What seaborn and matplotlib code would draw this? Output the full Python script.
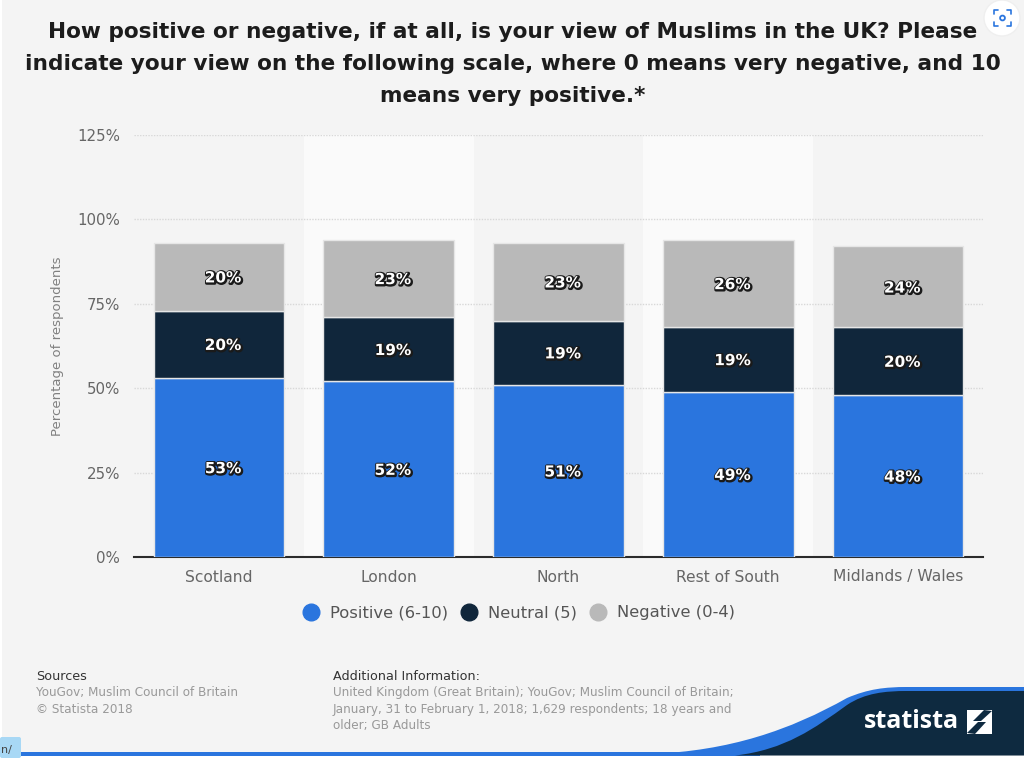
import matplotlib
matplotlib.use('Agg')
import matplotlib.pyplot as plt
import matplotlib.patheffects as pe
from matplotlib.lines import Line2D
from matplotlib.patches import Circle, PathPatch, Polygon, Rectangle, FancyBboxPatch
from matplotlib.path import Path
import numpy as np
import seaborn as sns

regions = ['Scotland', 'London', 'North', 'Rest of South', 'Midlands / Wales']
positive = [53, 52, 51, 49, 48]
neutral = [20, 19, 19, 19, 20]
negative = [20, 23, 23, 26, 24]
series_names = ['Positive (6-10)', 'Neutral (5)', 'Negative (0-4)']
series_colors = ['#2a75de', '#10263b', '#b9b9b9']
y_ticks = [0, 25, 50, 75, 100, 125]

title = ('How positive or negative, if at all, is your view of Muslims in the UK? Please\n'
         'indicate your view on the following scale, where 0 means very negative, and 10\n'
         'means very positive.*')

sns.set_theme(style='white')
plt.rcParams['font.family'] = ['DejaVu Sans']

bg = '#f4f4f4'
fig = plt.figure(figsize=(10.24, 7.58), dpi=100, facecolor=bg)
ax = fig.add_axes([134 / 1024, 1 - 557 / 758, 849 / 1024, 422 / 758], facecolor=bg)

# alternating bands behind the bars
for i in [1, 3]:
    ax.axvspan(i - 0.5, i + 0.5, color='#fafafa', lw=0, zorder=0)

bottom = np.zeros(len(regions))
for values, color in zip([positive, neutral, negative], series_colors):
    sns.barplot(x=regions, y=values, bottom=bottom, color=color, saturation=1, width=0.77,
                edgecolor='#e6e6e6', linewidth=1, ax=ax, zorder=3)
    labels = ax.bar_label(ax.containers[-1], fmt='%g%%', label_type='center', color='white',
                          fontsize=11, fontweight='bold', zorder=5)
    for t in labels:
        t.xyann = (3, -0.8)
        t.set_path_effects([pe.Stroke(linewidth=2.4, foreground='#1a1a1a', offset=(0.5, -0.5)), pe.Normal()])
    bottom = bottom + np.array(values)

ax.set_xlim(-0.5, 4.5)
ax.set_ylim(0, 125)
ax.set_yticks(y_ticks)
ax.set_yticklabels([f'{v}%' for v in y_ticks])
ax.set_ylabel('Percentage of respondents', fontsize=9.5, color='#808080', labelpad=0)
ax.yaxis.set_label_coords(-0.0823, 0.5)
ax.grid(axis='y', color='#d8d8d8', linestyle=(0, (1, 1)), linewidth=1, zorder=1)
ax.set_axisbelow(True)
ax.tick_params(axis='x', colors='#666666', labelsize=11.2, length=0, pad=9)
ax.tick_params(axis='y', colors='#666666', labelsize=10.8, length=0, pad=10)
sns.despine(ax=ax, left=True)
ax.spines['bottom'].set_color('#2b2b2b')
ax.spines['bottom'].set_linewidth(1.5)

handles = [Line2D([], [], linestyle='', marker='o', markersize=12, color=c) for c in series_colors]
fig.legend(handles, series_names, loc='center', bbox_to_anchor=(515 / 1024, 1 - 613 / 758), ncol=3,
           frameon=False, fontsize=11.8, labelcolor='#555555', handletextpad=0.15, columnspacing=0.3)

fig.text(513 / 1024, 1 - 64 / 758, title, ha='center', va='center', fontsize=15.6, fontweight='bold',
         color='#1c1c1c', linespacing=1.72)

# footer text
fig.text(36 / 1024, 1 - 676 / 758, 'Sources', fontsize=9.2, color='#333333', va='center')
fig.text(36 / 1024, 1 - 701 / 758, 'YouGov; Muslim Council of Britain\n© Statista 2018', fontsize=8.65,
         color='#999999', va='center', linespacing=1.35)
fig.text(333 / 1024, 1 - 676 / 758, 'Additional Information:', fontsize=9.2, color='#333333', va='center')
fig.text(333 / 1024, 1 - 709 / 758,
         'United Kingdom (Great Britain); YouGov; Muslim Council of Britain;\n'
         'January, 31 to February 1, 2018; 1,629 respondents; 18 years and\n'
         'older; GB Adults', fontsize=8.65, color='#999999', va='center', linespacing=1.35)

# overlay in pixel coordinates for the branding
deco = fig.add_axes([0, 0, 1, 1], facecolor='none', zorder=10)
deco.set_xlim(0, 1024)
deco.set_ylim(758, 0)
deco.axis('off')

deco.add_patch(Rectangle((0, 756), 1024, 2, color='#ffffff', lw=0))
deco.add_patch(Rectangle((0, 0), 2, 758, color='#ffffff', lw=0))
deco.add_patch(Rectangle((0, 752), 760, 3.5, color='#2a75de', lw=0))

C = Path.CURVE4
blue = Path([(650, 754), (730, 751), (790, 730), (847, 698), (868, 689), (885, 687), (907, 687),
             (1024, 687), (1024, 755), (650, 755)],
            [Path.MOVETO, C, C, C, C, C, C, Path.LINETO, Path.LINETO, Path.CLOSEPOLY])
deco.add_patch(PathPatch(blue, facecolor='#2a75de', lw=0))
navy = Path([(735, 755.5), (785, 750), (815, 728), (847, 705), (865, 693), (885, 691), (907, 691),
             (1024, 691), (1024, 755.5), (735, 755.5)],
            [Path.MOVETO, C, C, C, C, C, C, Path.LINETO, Path.LINETO, Path.CLOSEPOLY])
deco.add_patch(PathPatch(navy, facecolor='#0e2a40', lw=0))

deco.text(864, 722, 'statista', color='white', fontsize=18, fontweight='bold', family='Open Sans',
          va='center', ha='left')
deco.add_patch(Rectangle((967, 710), 25, 24, color='white', lw=0))
deco.add_patch(Polygon([(967, 733), (978, 722), (986, 722), (975, 734)], color='#0e2a40', lw=0))
deco.add_patch(Polygon([(992, 711), (981, 721), (973, 721), (984, 710)], color='#0e2a40', lw=0))

# screenshot leftovers: lens button and corner tab
deco.add_patch(Circle((1002, 18), 18, facecolor='white', edgecolor='#efefef', lw=1))
for cx, sx in [(994, 1), (1011, -1)]:
    for cy, sy in [(10, 1), (26, -1)]:
        deco.plot([cx + 4 * sx, cx, cx], [cy, cy, cy + 4 * sy], color='#2a75de', lw=1.2)
deco.add_patch(Circle((1002.5, 18), 2.4, fill=False, edgecolor='#2a75de', lw=1.3))
deco.add_patch(FancyBboxPatch((0, 737), 21, 21, boxstyle='round,pad=0,rounding_size=2',
                              facecolor='#a8d8f5', lw=0))
deco.text(1, 750, 'n/', fontsize=8, color='#444444', va='center')

fig.savefig('out.png', dpi=100, facecolor=bg)
